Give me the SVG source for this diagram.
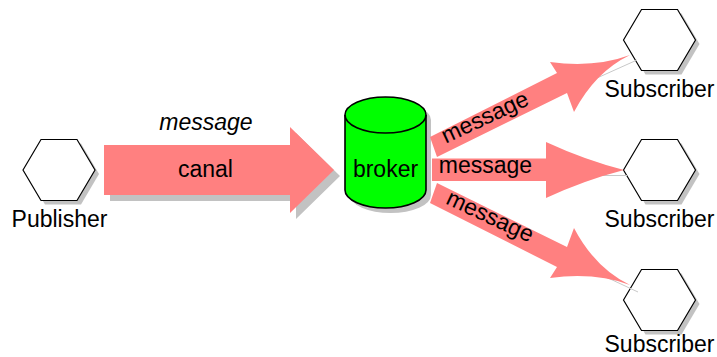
<svg xmlns="http://www.w3.org/2000/svg" width="717" height="357" viewBox="0 0 717 357">
  <style>
    .lbl { font-family: "Liberation Sans", Arial, sans-serif; font-size: 23px; fill: #000; text-anchor: middle; }
    .it { font-style: italic; }
    .hex { fill: #fff; stroke: #000; stroke-width: 1.2; }
    .shadow { fill: #c2c2c2; stroke: none; }
    .fat { fill: #ff8080; stroke: none; }
    .trace { fill: none; stroke: #c8c8c8; stroke-width: 1; }
  </style>
  <defs>
    <polygon id="hexShape" points="-36,0 -18,-30.5 18,-30.5 36,0 18,30.5 -18,30.5"/>
  </defs>

  <rect width="717" height="357" fill="#fff"/>

  <!-- publisher -->
  <g id="publisher">
    <use href="#hexShape" class="shadow" transform="translate(63,174)"/>
    <use href="#hexShape" class="hex" transform="translate(59,170)"/>
    <text class="lbl" x="59.5" y="226.5">Publisher</text>
  </g>

  <!-- broker cylinder -->
  <g id="broker">
    <path class="shadow" d="M350,120 L350,195 A40.5,18 0 0 0 431,195 L431,120 A40.5,18 0 0 0 350,120 Z"/>
    <path d="M345,115 L345,190 A40.5,18 0 0 0 426,190 L426,115 A40.5,18 0 0 0 345,115 Z" fill="#00ff00" stroke="#000" stroke-width="1.6"/>
    <path d="M345,115 A40.5,18 0 0 0 426,115" fill="none" stroke="#000" stroke-width="1.6"/>
    <text class="lbl" x="385.5" y="177">broker</text>
  </g>

  <!-- subscribers -->
  <g id="subscriber-1">
    <use href="#hexShape" class="shadow" transform="translate(663.5,44)"/>
    <use href="#hexShape" class="hex" transform="translate(659.5,40)"/>
    <text class="lbl" x="659.5" y="96.5">Subscriber</text>
  </g>
  <g id="subscriber-2">
    <use href="#hexShape" class="shadow" transform="translate(663.5,174)"/>
    <use href="#hexShape" class="hex" transform="translate(659.5,170)"/>
    <text class="lbl" x="659.5" y="226.5">Subscriber</text>
  </g>
  <g id="subscriber-3">
    <use href="#hexShape" class="shadow" transform="translate(663.5,304)"/>
    <use href="#hexShape" class="hex" transform="translate(659.5,300)"/>
    <text class="lbl" x="659.5" y="351.5">Subscriber</text>
  </g>

  <!-- connectors -->
  <g id="connectors">
    <!-- faint spine traces -->
    <line class="trace" x1="437" y1="150" x2="637" y2="60"/>
    <line class="trace" x1="433" y1="175.5" x2="627" y2="175.5"/>
    <line class="trace" x1="437" y1="198" x2="638" y2="292"/>

    <!-- publisher to broker -->
    <polygon class="shadow" points="110,151 296,151 296,133 340,176 296,219 296,201 110,201"/>
    <polygon class="fat" points="104,145 290,145 290,127 334,170 290,213 290,195 104,195"/>
    <text class="lbl it" x="206" y="130">message</text>
    <text class="lbl" x="205.5" y="177">canal</text>

    <!-- broker to subscribers -->
    <path class="fat" d="M430,137 L557,73 L550,62 Q595,68 630,55 Q595,72 574,112 L567,93 L437,157 Z"/>
    <path class="fat" d="M432,158.5 L546,158.5 L546,142 Q585,160 624,170 Q585,180 546,198 L546,181 L432,181 Z"/>
    <path class="fat" d="M430,203 L557,267 L550,278 Q595,272 630,285 Q595,268 574,228 L567,247 L437,183 Z"/>

    <text class="lbl" transform="translate(488,124) rotate(-25)">message</text>
    <text class="lbl" x="485.5" y="173">message</text>
    <text class="lbl" transform="translate(487,223) rotate(25)">message</text>
  </g>
</svg>
